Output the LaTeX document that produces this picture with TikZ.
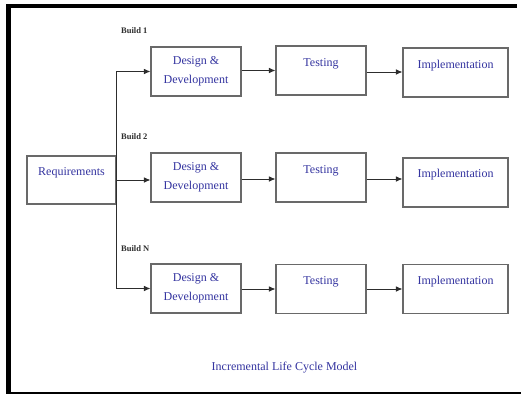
\documentclass[tikz,border=0pt]{standalone}
\usepackage{fontspec}
\setmainfont{Liberation Serif}
\usetikzlibrary{arrows.meta}
\definecolor{txtblue}{RGB}{52,52,160}
\definecolor{boxgray}{RGB}{105,105,105}
\definecolor{linegray}{RGB}{45,45,45}
\tikzset{
  box/.style={draw=boxgray, line width=1.1pt, fill=white, inner sep=0pt, minimum height=49pt},
  dbox/.style={box, minimum width=90pt, align=center, text=txtblue, font=\fontsize{12}{19}\selectfont},
  tbox/.style={box, minimum width=90pt},
  ibox/.style={box, minimum width=105pt},
  txt/.style={text=txtblue, font=\fontsize{12}{14}\selectfont, inner sep=0pt, anchor=base},
  buildlbl/.style={text=linegray, font=\fontsize{8.5}{10}\selectfont\bfseries, inner sep=0pt, anchor=base west},
  arr/.style={-{Latex[length=6.5pt,width=5.5pt]}, line width=0.8pt, draw=linegray},
  conn/.style={line width=0.8pt, draw=linegray}
}
\begin{document}
\begin{tikzpicture}[x=1pt, y=-1pt]
\useasboundingbox (0,0) rectangle (521,394);
\fill[white] (0,0) rectangle (521,394);
% frame
\fill[black] (6,4) rectangle (517,8);
\fill[black] (6,4) rectangle (11,394);
\draw[black, line width=2pt] (6,392.5) -- (521,392.5);

% requirements
\node[box, minimum width=89pt, minimum height=48pt] (req) at (71.5,180) {};
\node[txt] (reqlbl) at ([yshift=-20pt]req.north) {Requirements};

% row 1
\node[dbox] (d1) at (196,71.5) {Design \&\\Development};
\node[tbox] (t1) at (321,70.5) {};
\node[txt] (t1lbl) at ([yshift=-21pt]t1.north) {Testing};
\node[ibox] (i1) at (455.5,72.5) {};
\node[txt] (i1lbl) at ([yshift=-21pt]i1.north) {Implementation};

% row 2
\node[dbox] (d2) at (196,177.5) {Design \&\\Development};
\node[tbox] (t2) at (321,177.5) {};
\node[txt] (t2lbl) at ([yshift=-21pt]t2.north) {Testing};
\node[ibox] (i2) at (455.5,182.5) {};
\node[txt] (i2lbl) at ([yshift=-20pt]i2.north) {Implementation};

% row 3
\node[dbox] (d3) at (196,288.5) {Design \&\\Development};
\node[tbox] (t3) at (321,289) {};
\node[txt] (t3lbl) at ([yshift=-21pt]t3.north) {Testing};
\node[ibox] (i3) at (455.5,289) {};
\node[txt] (i3lbl) at ([yshift=-21pt]i3.north) {Implementation};

% build labels
\node[buildlbl] (b1) at (121,33) {Build 1};
\node[buildlbl] (b2) at (121,139) {Build 2};
\node[buildlbl] (bn) at (121,251) {Build N};

% title
\node[txt] (title) at (284.5,370) {Incremental Life Cycle Model};

% connectors from requirements
\draw[arr] (req.east) |- (d1.west);
\draw[arr] (req.east) |- (d3.west);
\draw[arr] (req.east) -- (req.east -| d2.west);

% row arrows
\draw[arr] (d1.east |- t1.west) -- (t1.west);
\draw[arr] (t1.east |- 0,72) -- (i1.west |- 0,72);
\draw[arr] (d2.east |- 0,179) -- (t2.west |- 0,179);
\draw[arr] (t2.east |- 0,179) -- (i2.west |- 0,179);
\draw[arr] (d3.east |- 0,289) -- (t3.west |- 0,289);
\draw[arr] (t3.east |- 0,289) -- (i3.west |- 0,289);
\end{tikzpicture}
\end{document}
